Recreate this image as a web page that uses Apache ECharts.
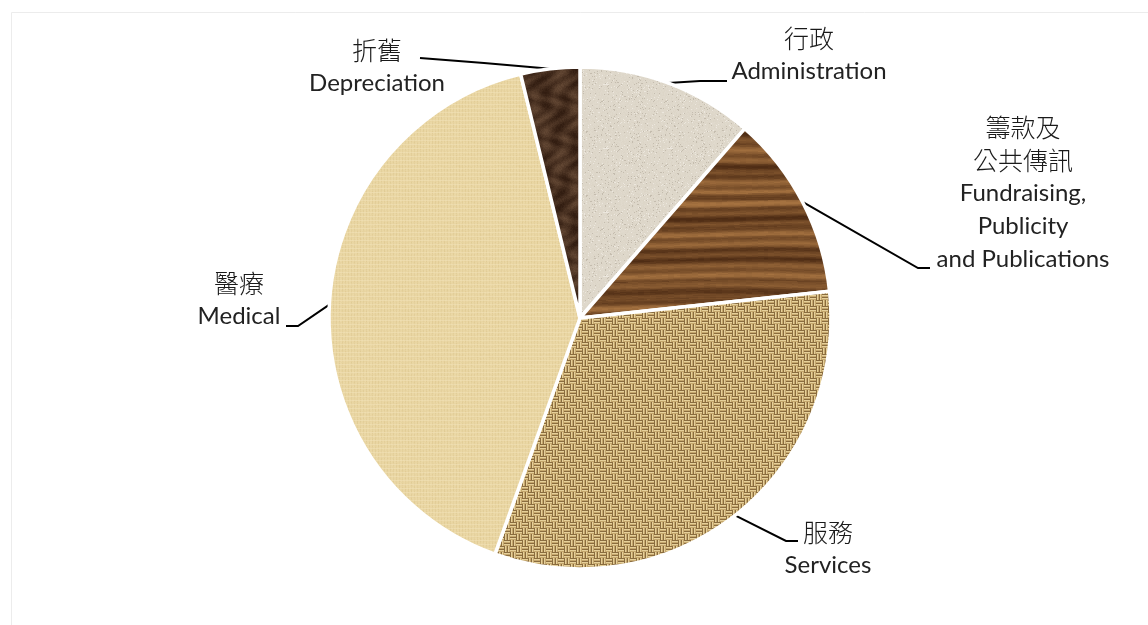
<!DOCTYPE html>
<html>
<head>
<meta charset="utf-8">
<script src="https://cdn.jsdelivr.net/npm/echarts@6/dist/echarts.min.js"></script>
<style>
html,body{margin:0;padding:0;background:#fff;}
#main{width:1148px;height:625px;}
</style>
</head>
<body>
<div id="main"></div>
<script>
// ---- data ----
const categories = ['Administration', 'Fundraising, Publicity and Publications', 'Services', 'Medical', 'Depreciation'];
const cjkLabels = ['行政', '籌款及\n公共傳訊', '服務', '醫療', '折舊'];
const enLabels = ['Administration', 'Fundraising,\nPublicity\nand Publications', 'Services', 'Medical', 'Depreciation'];
const values = [11.4, 11.9, 32.2, 40.7, 3.8];

// ---- label placement (text position + guide line elbow/end) ----
const labelPlace = [
  { x: 809, y: 22, pts: [[700, 81], [727, 81]] },
  { x: 1023, y: 111, pts: [[918, 268], [930, 268]] },
  { x: 828, y: 516, pts: [[786, 541], [798, 541]] },
  { x: 239, y: 267, pts: [[298, 326], [286, 326]] },
  { x: 377, y: 34, pts: [[484, 63], [420, 58]] }
];

// ---- deterministic texture helpers (styling only) ----
function hash(n) { const s = Math.sin(n * 127.1 + 311.7) * 43758.5453; return s - Math.floor(s); }
function makeTex(w, h, fn) {
  const c = document.createElement('canvas'); c.width = w; c.height = h;
  const ctx = c.getContext('2d'); const img = ctx.createImageData(w, h);
  for (let y = 0; y < h; y++) for (let x = 0; x < w; x++) {
    const col = fn(x, y); const i = (y * w + x) * 4;
    img.data[i] = col[0]; img.data[i + 1] = col[1]; img.data[i + 2] = col[2]; img.data[i + 3] = 255;
  }
  ctx.putImageData(img, 0, 0); return c;
}
function mix(a, b, t) { t = Math.max(0, Math.min(1, t)); return [a[0] + (b[0] - a[0]) * t, a[1] + (b[1] - a[1]) * t, a[2] + (b[2] - a[2]) * t]; }
const TAU = Math.PI * 2;

const texAdmin = makeTex(64, 64, (x, y) => {
  const n = hash(x * 71 + y * 13);
  const base = [220, 213, 199];
  if (n > 0.94) return [196, 188, 174];
  if (n < 0.05) return [236, 231, 222];
  return mix(base, [229, 223, 212], hash(x * 3 + y * 101) * 0.5);
});
const texWood = makeTex(256, 200, (x, y) => {
  const w = y + 1.2 * Math.sin(x * TAU / 256 + y * 0.03);
  let t = 0.5 + 0.22 * Math.sin(w * 0.6) + 0.22 * Math.sin(w * 0.17 + 1.3) + 0.2 * (hash(Math.floor(w / 3) * 7) - 0.5);
  t += 0.12 * (hash(Math.floor(x / 6) * 17 + y * 5) - 0.5);
  return mix([78, 44, 20], [165, 114, 64], t);
});
const texBurlap = makeTex(12, 12, (x, y) => {
  const bx = Math.floor(x / 6), by = Math.floor(y / 6);
  const horiz = (bx + by) % 2 === 0;
  const p = horiz ? y % 3 : x % 3;
  if (p === 0) return [138, 108, 62];
  if (p === 1) return [230, 208, 154];
  return [198, 168, 110];
});
const texMedical = makeTex(60, 60, (x, y) => {
  let c = [232, 212, 160];
  if (x % 3 === 0) c = mix(c, [218, 195, 138], 0.5);
  if (y % 4 === 0) c = mix(c, [243, 228, 188], 0.5);
  c = mix(c, [241, 225, 180], hash(x * 11 + y * 29) * 0.35);
  return c;
});
const texDep = makeTex(80, 80, (x, y) => {
  const t = 0.3 + 0.3 * Math.sin(x * TAU * 3 / 80 + Math.sin(y * TAU * 2 / 80) * 2) * Math.sin(y * TAU * 3 / 80 + x * TAU / 80) + 0.15 * (hash(x * 31 + y * 7) - 0.5);
  return mix([50, 29, 17], [125, 94, 70], t);
});
const textures = [texAdmin, texWood, texBurlap, texMedical, texDep];

function richLabel(i) {
  const c = cjkLabels[i].split('\n').map(s => '{c|' + s + '}');
  const e = enLabels[i].split('\n').map(s => '{e|' + s + '}');
  return c.concat(e).join('\n');
}

const chart = echarts.init(document.getElementById('main'), null, { renderer: 'canvas' });
chart.setOption({
  backgroundColor: '#ffffff',
  animation: false,
  graphic: [{
    type: 'rect', left: 9, top: 10, silent: true,
    shape: { width: 1200, height: 700 },
    style: { fill: 'none', stroke: '#ececec', lineWidth: 1 }
  }],
  series: [{
    type: 'pie',
    center: [580, 318],
    radius: 251,
    startAngle: 90,
    clockwise: true,
    avoidLabelOverlap: false,
    emphasis: { disabled: true },
    itemStyle: { borderColor: '#ffffff', borderWidth: 3.5 },
    label: {
      show: true,
      position: 'outside',
      color: '#1a1a1a',
      formatter: p => richLabel(p.dataIndex),
      rich: {
        c: { fontFamily: 'Noto Sans CJK TC', fontSize: 25, fontWeight: 300, lineHeight: 33, color: '#1a1a1a', align: 'center' },
        e: { fontFamily: 'Lato', fontSize: 24, fontWeight: 400, lineHeight: 33, color: '#222222', align: 'center' }
      }
    },
    labelLine: { show: true, length: 10, length2: 10, lineStyle: { color: '#000', width: 2 } },
    labelLayout: function (params) {
      const pl = labelPlace[params.dataIndex];
      const out = { x: pl.x, y: pl.y, align: 'center', verticalAlign: 'top' };
      if (params.labelLinePoints && params.labelLinePoints.length) {
        out.labelLinePoints = [params.labelLinePoints[0]].concat(pl.pts);
      }
      return out;
    },
    data: categories.map((name, i) => ({
      name: name,
      value: values[i],
      itemStyle: { color: { image: textures[i], repeat: 'repeat' } }
    }))
  }]
});
</script>
</body>
</html>
